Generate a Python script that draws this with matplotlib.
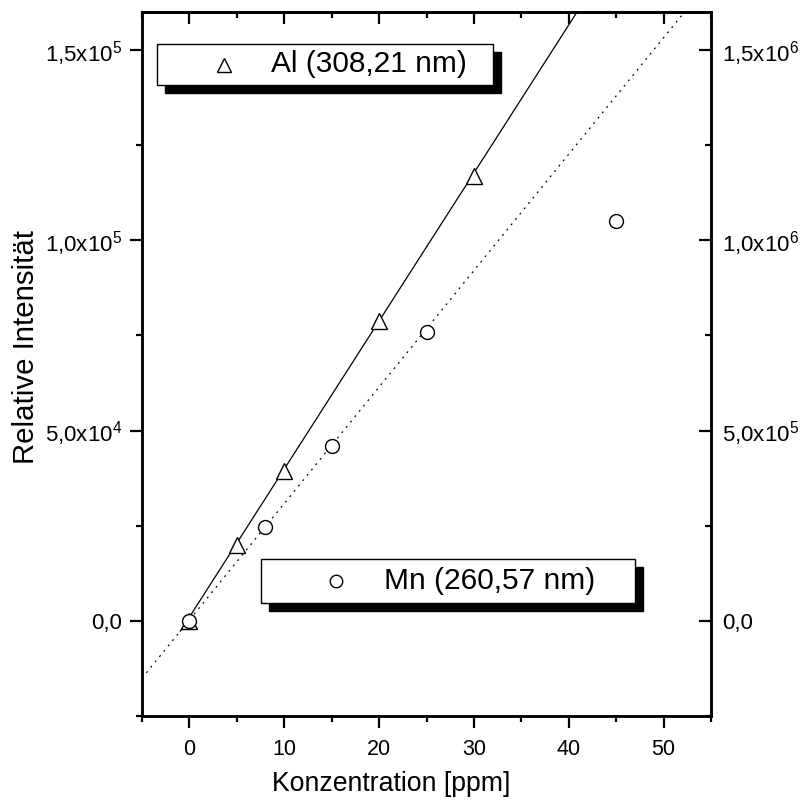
import matplotlib
matplotlib.use("Agg")
import matplotlib.pyplot as plt
import numpy as np
from matplotlib.patches import Rectangle
from matplotlib.lines import Line2D

plt.rcParams['font.family'] = ['Liberation Sans', 'DejaVu Sans']
plt.rcParams['mathtext.fontset'] = 'custom'
plt.rcParams['mathtext.rm'] = 'Liberation Sans'
plt.rcParams['mathtext.it'] = 'Liberation Sans'
plt.rcParams['mathtext.bf'] = 'Liberation Sans'

# Data
al_conc = [0, 5, 10, 20, 30]
al_int = [0, 2.0e4, 3.95e4, 7.87e4, 1.168e5]
mn_conc = [0, 8, 15, 25, 45]
mn_int = [0, 2.47e5, 4.6e5, 7.6e5, 1.05e6]
al_fit = (3890.0, 1.0e3)      # slope, intercept
al_fit_x = [-0.95, 45]
mn_fit = (30600.0, 2.5e3)
mn_fit_x = [-5, 55]

xticks = [0, 10, 20, 30, 40, 50]
yticks_left = [0, 5e4, 1e5, 1.5e5]
ylabels_left = ['0,0', '5,0x10$^{4}$', '1,0x10$^{5}$', '1,5x10$^{5}$']
yticks_right = [0, 5e5, 1e6, 1.5e6]
ylabels_right = ['0,0', '5,0x10$^{5}$', '1,0x10$^{6}$', '1,5x10$^{6}$']

W, H = 810, 801
fig = plt.figure(figsize=(8.1, 8.01), dpi=100)
L, R, T, B = 142, 711, 12, 716
ax = fig.add_axes([L / W, (H - B) / H, (R - L) / W, (B - T) / H])
ax2 = ax.twinx()

ax.set_xlim(-5, 55)
ax.set_ylim(-2.5e4, 1.6e5)
ax2.set_ylim(-2.5e5, 1.6e6)

# fit lines
xa = np.array(al_fit_x)
ax.plot(xa, al_fit[0] * xa + al_fit[1], color='black', lw=0.9)
xm = np.array(mn_fit_x)
ax2.plot(xm, mn_fit[0] * xm + mn_fit[1], color='black', lw=0.9, ls=(0, (1.5, 4)))

ax.plot(al_conc, al_int, ls='none', marker='^', ms=11, mfc='white', mec='black', mew=1.0, zorder=5)
ax2.plot(mn_conc, mn_int, ls='none', marker='o', ms=10, mfc='white', mec='black', mew=1.0, zorder=5)

for a in (ax, ax2):
    for s in a.spines.values():
        s.set_linewidth(1.8)

MAJ, MIN, TW = 8.6, 4.3, 1.6
ax.set_xticks(xticks)
ax.set_xticks(np.arange(-5, 56, 5), minor=True)
ax.set_yticks(yticks_left)
ax.set_yticklabels(ylabels_left)
ax.set_yticks(np.arange(-2.5e4, 1.61e5, 2.5e4), minor=True)
ax.tick_params(axis='both', which='major', direction='out', length=MAJ, width=TW, labelsize=16, pad=5.5)
ax.tick_params(axis='both', which='minor', direction='out', length=MIN, width=TW)
ax.tick_params(axis='x', pad=8, labelsize=15.5)

ax2.set_yticks(yticks_right)
ax2.set_yticklabels(ylabels_right)
ax2.set_yticks(np.arange(-2.5e5, 1.61e6, 2.5e5), minor=True)
ax2.tick_params(axis='y', which='major', direction='in', length=MAJ, width=TW, labelsize=16, pad=8)
ax2.tick_params(axis='y', which='minor', direction='in', length=MIN, width=TW)

top = ax.secondary_xaxis('top')
top.set_xticks(xticks)
top.set_xticks(np.arange(-5, 56, 5), minor=True)
top.set_xticklabels([])
top.tick_params(which='major', direction='in', length=MAJ, width=TW)
top.tick_params(which='minor', direction='in', length=MIN, width=TW)
top.spines['top'].set_linewidth(1.8)

# axis titles (positioned like the original, not centred on the axes)
fig.text(391 / W, 1 - 791 / H, 'Konzentration [ppm]', fontsize=19.2, ha='center', va='baseline')
fig.text(34 / W, 1 - 347 / H, 'Relative Intensität', fontsize=21.2, rotation=90,
         rotation_mode='anchor', ha='center', va='baseline')

# legend boxes (figure pixel coords)
def legend_box(x0, y0, x1, y1, marker, ms, mx, text, tx):
    sh = 8
    fig.add_artist(Rectangle(((x0 + sh) / W, (H - y1 - sh) / H), (x1 - x0) / W, (y1 - y0) / H,
                             transform=fig.transFigure, facecolor='black', edgecolor='black', zorder=10))
    fig.add_artist(Rectangle((x0 / W, (H - y1) / H), (x1 - x0) / W, (y1 - y0) / H,
                             transform=fig.transFigure, facecolor='white', edgecolor='black', lw=1.0, zorder=11))
    ym = (H - (y0 + y1) / 2) / H
    fig.add_artist(Line2D([mx / W], [ym], transform=fig.transFigure, marker=marker, ms=ms,
                          mfc='white', mec='black', mew=1.0, ls='none', zorder=12))
    fig.text(tx / W, ym, text, fontsize=21.5, va='center', ha='left', zorder=12)

legend_box(157, 44, 493, 85, '^', 10, 224, 'Al (308,21 nm)', 271)
legend_box(261, 559, 635, 603, 'o', 9, 336, 'Mn (260,57 nm)', 384)

fig.savefig('out.png', dpi=100)
